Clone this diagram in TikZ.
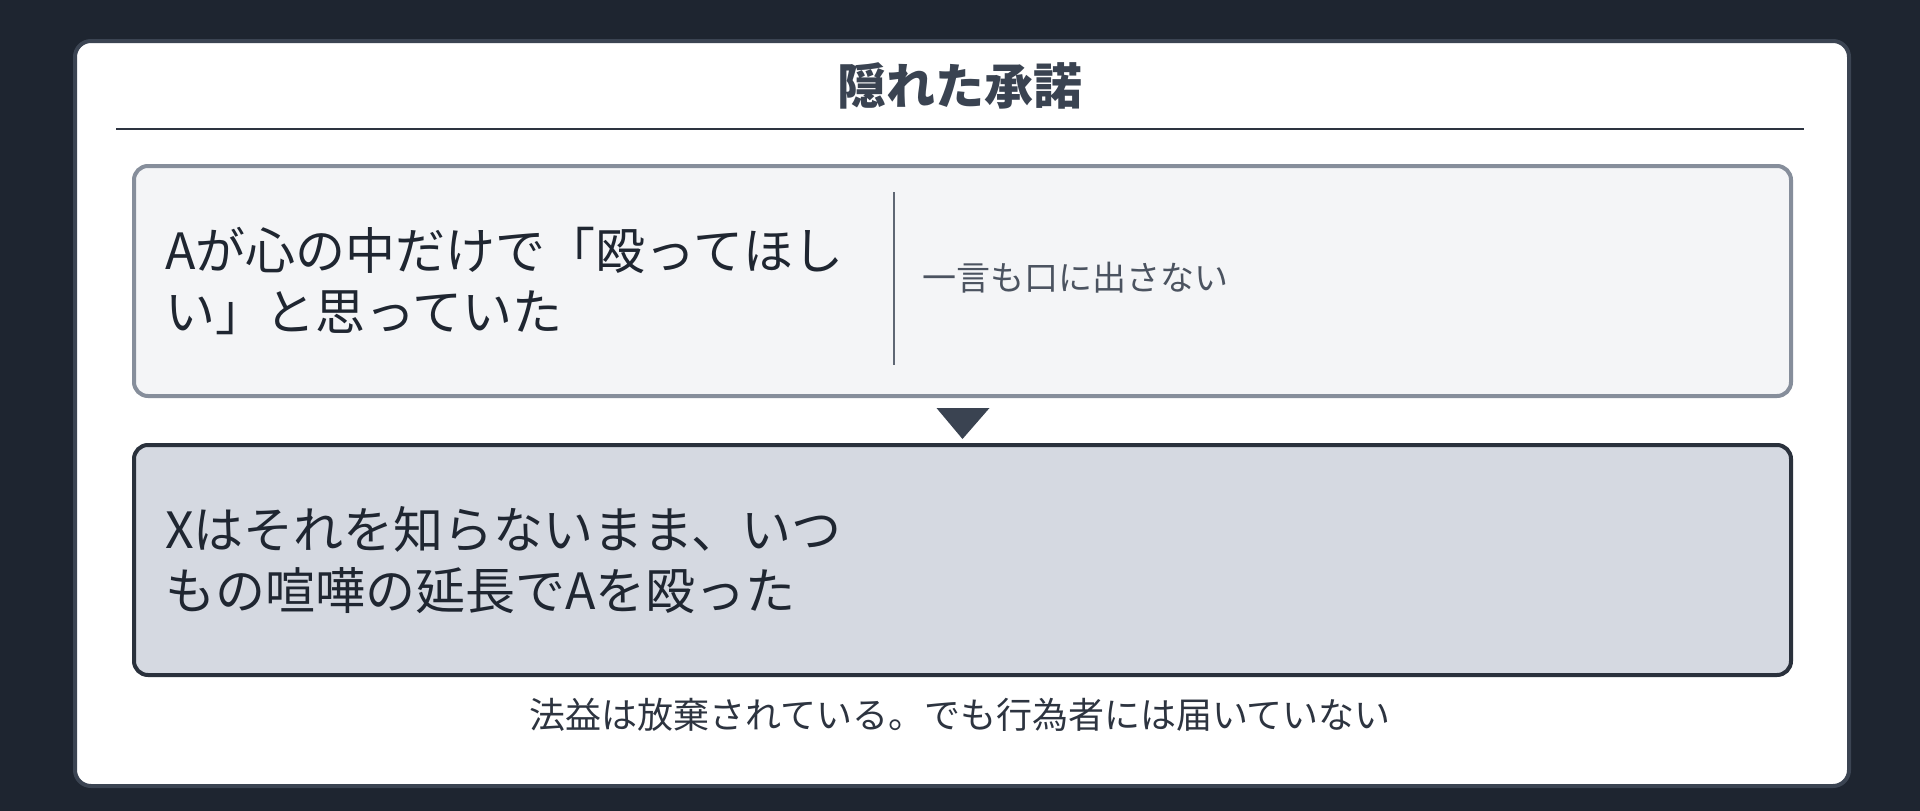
\documentclass[tikz,border=0pt]{standalone}
\usepackage{fontspec}
\setmainfont{Noto Sans CJK JP}
\usetikzlibrary{calc,positioning}
\definecolor{pagebg}{HTML}{1E2530}
\definecolor{cardedge}{HTML}{3B4452}
\definecolor{titleink}{HTML}{3A4351}
\definecolor{ruleink}{HTML}{2D3440}
\definecolor{thoughtfill}{HTML}{F4F5F7}
\definecolor{thoughtedge}{HTML}{868E9B}
\definecolor{actfill}{HTML}{D5D9E1}
\definecolor{actedge}{HTML}{2A313C}
\definecolor{ink}{HTML}{1F2631}
\definecolor{softink}{HTML}{4B5360}
\definecolor{divink}{HTML}{5F6774}

\begin{document}
\begin{tikzpicture}[x=1pt,y=-1pt,
  panel/.style = {draw=cardedge, line width=4pt, fill=white,
    rounded corners=16pt, minimum width=1774pt, minimum height=745pt,
    anchor=north west, inner sep=0pt},
  box/.style = {rounded corners=14pt, line width=4pt,
    minimum width=1657pt, minimum height=230pt,
    anchor=north west, inner sep=0pt},
  big/.style = {font=\fontsize{50}{61}\selectfont, align=left,
    anchor=west, text=ink, inner sep=0pt}]
  \fill[pagebg] (0,0) rectangle (1920,811);
  \node[panel] (card) at (73,39) {};
  \node[font=\bfseries\fontsize{49}{58}\selectfont, text=titleink] (title) at (960,86) {隠れた承諾};
  \coordinate (ruleL) at (116,129);
  \coordinate (ruleR) at (1804,129);
  \draw[ruleink, line width=2.5pt] (ruleL) -- (ruleR);

  % what A only thought
  \node[box, draw=thoughtedge, fill=thoughtfill] (thought) at (132,164) {};
  \node[big] (wish) at ($(thought.west)+(33,0)$) {Aが心の中だけで「殴ってほし\\い」と思っていた};
  \draw[divink, line width=2.5pt] (894,192) -- (894,365);
  \node[font=\fontsize{34}{40}\selectfont, text=softink, anchor=west, inner sep=0pt]
    (silent) at (922,278) {一言も口に出さない};

  \fill[titleink] ($(thought.south)+(-26,10)$) -- ++(53,0) -- ($(thought.south)+(0,41)$) -- cycle;

  % what X did
  \node[box, draw=actedge, fill=actfill] (act) at (132,443) {};
  \node[big] (deed) at ($(act.west)+(33,0)$) {Xはそれを知らないまま、いつ\\もの喧嘩の延長でAを殴った};

  \node[font=\fontsize{36}{42}\selectfont, text=ruleink] (note) at (960,715)
    {法益は放棄されている。でも行為者には届いていない};
\end{tikzpicture}
\end{document}
